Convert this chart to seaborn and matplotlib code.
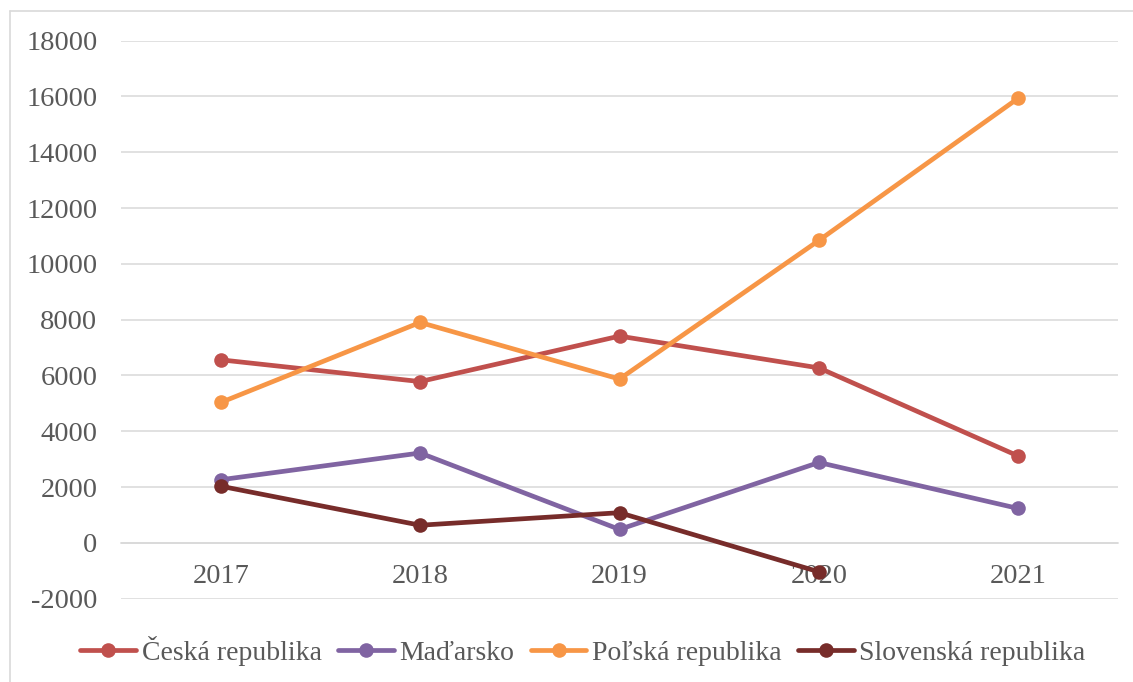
import pandas as pd
import numpy as np
import matplotlib.pyplot as plt
import seaborn as sns
from matplotlib.lines import Line2D

years = ['2017', '2018', '2019', '2020', '2021']
ceska = [6560, 5780, 7410, 6270, 3110]
madarsko = [2260, 3220, 480, 2880, 1230]
polska = [5030, 7900, 5870, 10840, 15940]
slovenska = [2030, 630, 1080, -1040, np.nan]

series_names = ['Česká republika', 'Maďarsko', 'Poľská republika', 'Slovenská republika']
colors = ['#C0504D', '#8064A2', '#F79646', '#772C2A']

df = pd.DataFrame({
    'Rok': years * 4,
    'Hodnota': ceska + madarsko + polska + slovenska,
    'Krajina': [n for n in series_names for _ in years],
})

sns.set_theme(style="white")
plt.rcParams['font.family'] = ['Liberation Serif', 'DejaVu Serif']
plt.rcParams['axes.unicode_minus'] = False
text_color = '#595959'

fig = plt.figure(figsize=(11.33, 6.82), dpi=100)
ax = fig.add_axes([121 / 1133, 1 - 598.6 / 682, (1118 - 121) / 1133, (598.6 - 40.7) / 682])

sns.lineplot(data=df, x='Rok', y='Hodnota', hue='Krajina', palette=dict(zip(series_names, colors)),
             marker='o', markersize=10.5, markeredgewidth=0, linewidth=3.4, sort=False, ax=ax)

ax.set_ylim(-2000, 18000)
ax.set_xlim(-0.5, 4.5)
ax.set_yticks(range(-2000, 18001, 2000))
ax.yaxis.grid(True, color='#D9D9D9', linewidth=1.1)
ax.set_axisbelow(True)
ax.set_xlabel('')
ax.set_ylabel('')

for side in ['top', 'right', 'left']:
    ax.spines[side].set_visible(False)
ax.spines['bottom'].set_position(('data', 0))
ax.spines['bottom'].set_color('#D9D9D9')
ax.spines['bottom'].set_linewidth(1.1)
ax.spines['bottom'].set_zorder(0.5)

ax.tick_params(axis='x', length=0, pad=15, labelsize=20.5, labelcolor=text_color)
ax.tick_params(axis='y', length=0, pad=17, labelsize=20.5, labelcolor=text_color)

handles, labels = ax.get_legend_handles_labels()
ax.legend(handles, labels, loc='center', bbox_to_anchor=(583 / 1133, 1 - 651 / 682),
          bbox_transform=fig.transFigure, ncol=4, frameon=False, fontsize=20,
          handlelength=2.0, handletextpad=0.2, columnspacing=0.6, labelcolor=text_color)

# chart border (top and left edge only, the rest is cropped)
fig.add_artist(Line2D([10 / 1133, 1], [1 - 11 / 682, 1 - 11 / 682], color='#D9D9D9', linewidth=1.2, transform=fig.transFigure))
fig.add_artist(Line2D([10 / 1133, 10 / 1133], [0, 1 - 11 / 682], color='#D9D9D9', linewidth=1.2, transform=fig.transFigure))

plt.savefig('out.png', dpi=100)
